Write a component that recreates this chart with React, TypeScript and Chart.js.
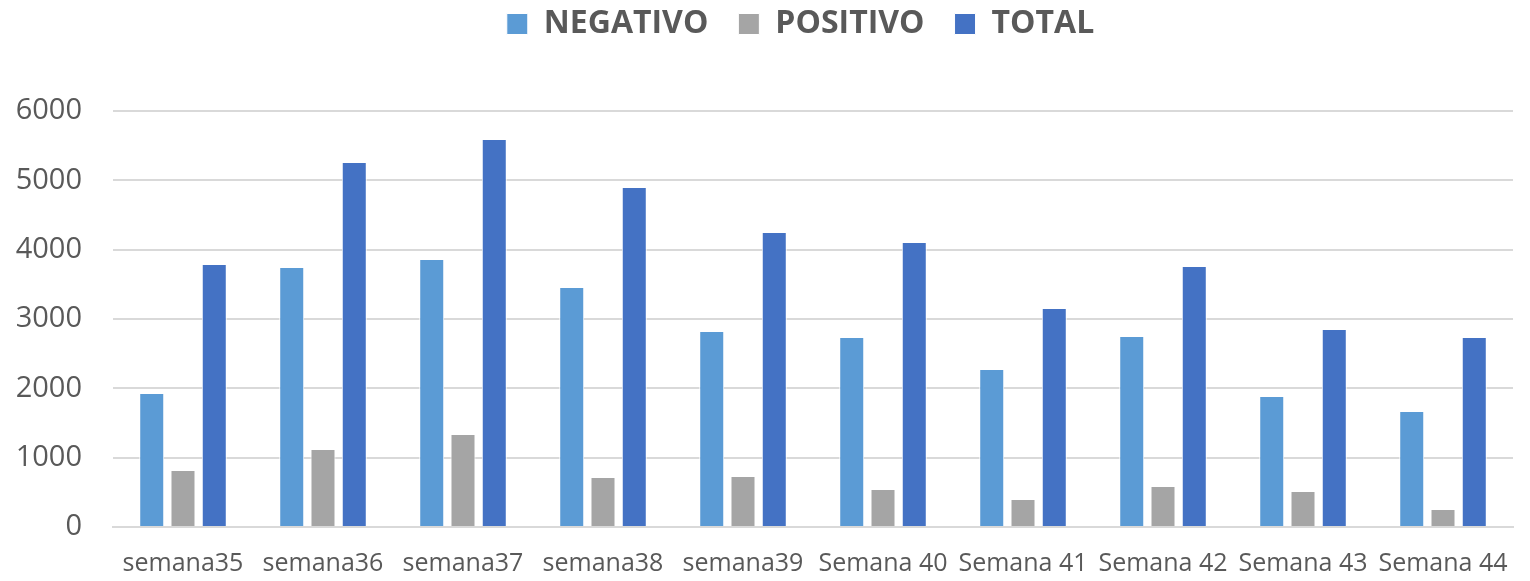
import React, { useEffect, useRef } from "react";
import { Chart, registerables } from "chart.js";

Chart.register(...registerables);

const categories = ["semana35", "semana36", "semana37", "semana38", "semana39", "Semana 40", "Semana 41", "Semana 42", "Semana 43", "Semana 44"];
const negativo = [1933, 3750, 3866, 3462, 2827, 2740, 2279, 2755, 1890, 1673];
const positivo = [822, 1125, 1341, 721, 736, 548, 404, 591, 519, 260];
const total = [3793, 5265, 5596, 4904, 4255, 4111, 3159, 3765, 2856, 2740];
const seriesNames = ["NEGATIVO", "POSITIVO", "TOTAL"];
const yTicks = [0, 1000, 2000, 3000, 4000, 5000, 6000];

const FONT = "'Open Sans', 'DejaVu Sans', sans-serif";
const TEXT = "#595959";
const GRID = "#d9d9d9";
const LEGEND_PAD = 30;
const LEGEND_FONT = 32;

export default function App() {
  const ref = useRef<HTMLCanvasElement | null>(null);

  useEffect(() => {
    document.body.style.margin = "0";
    const canvas = ref.current!;
    const legendFit = {
      id: "legendFit",
      beforeInit(chart: any) {
        const lg = chart.legend;
        if (!lg) return;
        const orig = lg.fit;
        lg.fit = function () {
          orig.call(this);
          this.height = 111;
        };
      },
      afterLayout(chart: any) {
        const lg = chart.legend;
        if (!lg) return;
        const shiftY = LEGEND_PAD - 8;
        lg.top -= shiftY;
        lg.bottom -= shiftY;
        const shiftX = 40;
        lg.left += shiftX;
        lg.right += shiftX;
      },
    };
    const chart = new Chart(canvas, {
      type: "bar",
      data: {
        labels: categories,
        datasets: [
          { label: seriesNames[0], data: negativo, backgroundColor: "#5B9BD5" },
          { label: seriesNames[1], data: positivo, backgroundColor: "#A5A5A5" },
          { label: seriesNames[2], data: total, backgroundColor: "#4472C4" },
        ].map((d) => ({
          ...d,
          borderColor: "#ffffff",
          borderWidth: 1,
          categoryPercentage: 0.67,
          barPercentage: 0.8,
        })),
      },
      options: {
        animation: false,
        responsive: false,
        maintainAspectRatio: false,
        layout: { padding: { left: 0, right: 9, top: 0, bottom: 0 } },
        plugins: {
          legend: {
            position: "top",
            labels: {
              font: { family: FONT, size: LEGEND_FONT, weight: "bold" },
              color: TEXT,
              boxWidth: 21,
              boxHeight: 21,
              padding: LEGEND_PAD,
            },
          },
          tooltip: { enabled: false },
        },
        scales: {
          x: {
            grid: { display: false, drawTicks: false },
            border: { display: true, color: GRID, width: 2 },
            ticks: {
              font: { family: FONT, size: 25 },
              color: TEXT,
              padding: 22,
              maxRotation: 0,
              autoSkip: false,
            },
            afterFit(scale: any) {
              scale.height = 54;
            },
          },
          y: {
            min: 0,
            max: 6000,
            afterBuildTicks(scale: any) {
              scale.ticks = yTicks.map((v) => ({ value: v }));
            },
            grid: { color: GRID, lineWidth: 2, drawTicks: false },
            border: { display: false },
            ticks: {
              font: { family: FONT, size: 29 },
              color: TEXT,
              padding: 31,
              callback: (v: any) => String(v),
            },
            afterFit(scale: any) {
              scale.width = 113;
            },
          },
        },
      },
      plugins: [legendFit],
    } as any);
    return () => chart.destroy();
  }, []);

  return (
    <div style={{ width: 1530, height: 581 }}>
      <canvas ref={ref} width={1530} height={581} style={{ display: "block" }} />
    </div>
  );
}
